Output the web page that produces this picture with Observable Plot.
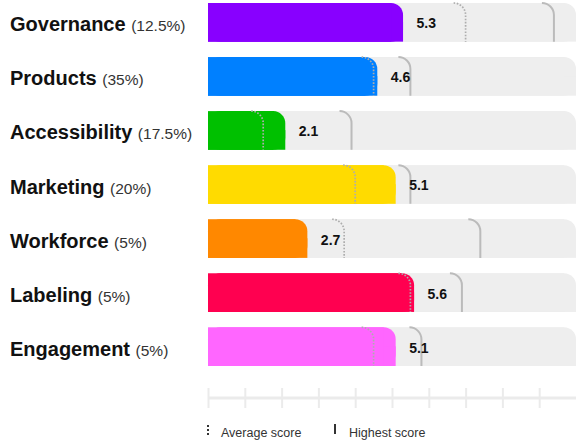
<!DOCTYPE html>
<html><head><meta charset="utf-8">
<script src="https://cdn.jsdelivr.net/npm/d3@7"></script>
<script src="https://cdn.jsdelivr.net/npm/@observablehq/plot@0.6"></script>
<style>
html,body{margin:0;padding:0;background:#fff;}
#chart{width:576px;}
#chart svg{display:block;}
.legend{position:relative;width:576px;height:23px;font:12.5px "Liberation Sans",Arial,sans-serif;color:#333;}
.legend span{position:absolute;white-space:nowrap;}
</style></head><body>
<div id="chart"></div>
<div class="legend">
  <span style="left:207px;top:7px;height:10px;border-left:2px dotted #333"></span>
  <span style="left:221px;top:8px">Average score</span>
  <span style="left:334px;top:6px;height:10px;border-left:2px solid #333"></span>
  <span style="left:349px;top:8px">Highest score</span>
</div>
<script>
const categories = ["Governance", "Products", "Accessibility", "Marketing", "Workforce", "Labeling", "Engagement"];
const weights = ["12.5%", "35%", "17.5%", "20%", "5%", "5%", "5%"];
const scores = [5.3, 4.6, 2.1, 5.1, 2.7, 5.6, 5.1];
const averages = [7.0, 4.5, 1.5, 4.0, 3.7, 5.5, 4.5];
const highest = [9.4, 5.5, 3.9, 5.5, 7.4, 6.9, 5.8];
const colors = ["#8800ff", "#0080ff", "#00c000", "#ffdb00", "#ff8800", "#ff0050", "#ff66ff"];
const ticks = [0, 1, 2, 3, 4, 5, 6, 7, 8, 9];
const maxScore = 10;

const data = categories.map((c, i) => ({
  category: c, weight: weights[i], score: scores[i],
  average: averages[i], highest: highest[i], color: colors[i]
}));

const R = 12;
const FONT = "Liberation Sans, Arial, sans-serif";

function roundedBar(x1, x2, fill) {
  const base = {y: "category", x1, x2, fill};
  return [
    Plot.barX(data, {...base, rx: R}),
    Plot.barX(data, {...base, insetTop: 19}),
    Plot.barX(data, {...base, insetRight: R})
  ];
}

function bandwidthOf(y) {
  if (typeof y.bandwidth === "function") return y.bandwidth();
  if (typeof y.bandwidth === "number") return y.bandwidth;
  return 38.5;
}

function markers(index, scales) {
  const {x, y} = scales;
  const bw = bandwidthOf(y);
  const g = d3.create("svg:g").attr("fill", "none");
  for (const d of data) {
    const top = y(d.category), bot = top + bw;
    const hx = x(d.highest);
    g.append("path")
      .attr("d", `M${hx - R},${top}A${R},${R} 0 0 1 ${hx},${top + R}V${bot}`)
      .attr("stroke", "#bbbbbb").attr("stroke-width", 2);
  }
  for (const d of data) {
    const top = y(d.category), bot = top + bw;
    const ax = x(d.average);
    g.append("path")
      .attr("d", `M${ax - R},${top}A${R},${R} 0 0 1 ${ax},${top + R}V${bot}`)
      .attr("stroke", "#adadad").attr("stroke-width", 1.7)
      .attr("stroke-dasharray", "1.6,1.6");
  }
  return g.node();
}

function axisLine(index, scales, values, dimensions) {
  const {x} = scales;
  const yb = dimensions.height - dimensions.marginBottom + 32;
  return d3.create("svg:line")
    .attr("x1", x(0)).attr("x2", x(maxScore))
    .attr("y1", yb).attr("y2", yb)
    .attr("stroke", "#ebebeb").attr("stroke-width", 3).node();
}

function leftLabels(index, scales) {
  const {y} = scales;
  const bw = bandwidthOf(y);
  const g = d3.create("svg:g").attr("font-family", FONT).attr("text-anchor", "start");
  for (const d of data) {
    const t = g.append("text").attr("x", 10).attr("y", y(d.category) + bw / 2 + 9).attr("text-anchor", "start");
    t.append("tspan").attr("font-size", 20).attr("font-weight", "bold").attr("fill", "#111").text(d.category + " ");
    t.append("tspan").attr("font-size", 15.5).attr("fill", "#333").text("(" + d.weight + ")");
  }
  return g.node();
}

const chart = Plot.plot({
  width: 576,
  height: 418,
  marginLeft: 208,
  marginRight: 0,
  marginTop: 3,
  marginBottom: 52,
  style: {fontFamily: FONT, background: "#fff"},
  x: {domain: [0, maxScore], label: null},
  y: {domain: categories, axis: null, paddingInner: 0.285, paddingOuter: 0, round: false},
  color: {type: "identity"},
  marks: [
    ...roundedBar(0, maxScore, "#eeeeee"),
    ...roundedBar(0, "score", "color"),
    markers,
    Plot.text(data, {
      x: "score", y: "category", text: d => d.score.toFixed(1),
      dx: 13, dy: 1, textAnchor: "start", fontWeight: "bold", fontSize: 14, fill: "#111"
    }),
    Plot.axisX(ticks, {anchor: "bottom", label: null, tickSize: 20, dy: 22, stroke: "#ebebeb", strokeWidth: 2, tickFormat: () => ""}),
    axisLine,
    leftLabels
  ]
});
document.getElementById("chart").append(chart);
</script>
</body></html>
